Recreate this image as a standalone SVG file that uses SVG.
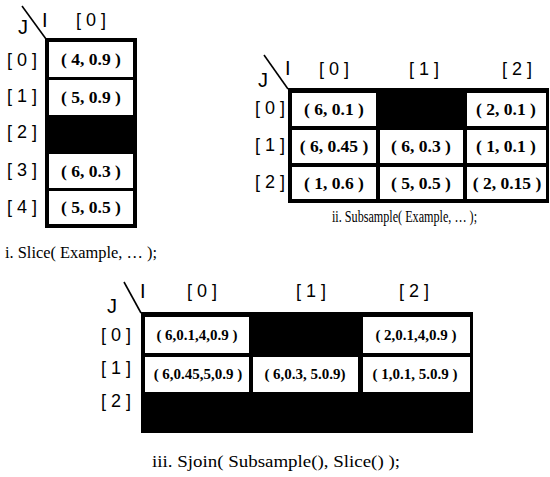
<svg xmlns="http://www.w3.org/2000/svg" width="550" height="477" viewBox="0 0 550 477">
<style>
.bg{fill:#fff}
.blk{fill:#000}
.wc{fill:#fff}
.lbl{font-family:'Liberation Sans',Arimo,Arial,sans-serif;font-size:18px;letter-spacing:5px;fill:#000}
.ij{font-family:'Liberation Sans',Arimo,Arial,sans-serif;font-size:20px;fill:#000}
.cell{font-family:'Liberation Serif',Tinos,'Times New Roman','DejaVu Serif',serif;font-weight:700;font-size:17.5px;text-anchor:middle;fill:#000}
.cell2{font-family:'Liberation Serif',Tinos,'Times New Roman','DejaVu Serif',serif;font-weight:700;font-size:15px;text-anchor:middle;fill:#000}
.cap{font-family:'Liberation Serif',Tinos,'Times New Roman','DejaVu Serif',serif;font-size:16px;fill:#000}
.diag{stroke:#000;stroke-width:1.6;fill:none}
</style>
<rect class="bg" x="0" y="0" width="550" height="477"/>

<g id="slice">
  <g id="slice-axes">
    <line class="diag" x1="22" y1="6" x2="46" y2="39"/>
    <text class="ij" x="18" y="34">J</text>
    <text class="ij" x="42" y="27">I</text>
    <text class="lbl" x="76" y="26">[0]</text>
    <text class="lbl" x="7" y="66">[0]</text>
    <text class="lbl" x="7" y="102">[1]</text>
    <text class="lbl" x="7" y="138">[2]</text>
    <text class="lbl" x="7" y="176">[3]</text>
    <text class="lbl" x="7" y="213">[4]</text>
  </g>
  <rect class="blk" x="45" y="38" width="92" height="190"/>
  <g id="slice-0-0"><rect class="wc" x="49" y="42" width="84" height="35"/><text class="cell" x="91" y="65">( 4, 0.9 )</text></g>
  <g id="slice-1-0"><rect class="wc" x="49" y="80" width="84" height="35"/><text class="cell" x="91" y="103">( 5, 0.9 )</text></g>
  <g id="slice-2-0"></g>
  <g id="slice-3-0"><rect class="wc" x="49" y="154" width="84" height="34"/><text class="cell" x="91" y="177">( 6, 0.3 )</text></g>
  <g id="slice-4-0"><rect class="wc" x="49" y="191" width="84" height="33"/><text class="cell" x="91" y="213">( 5, 0.5 )</text></g>
  <text id="slice-caption" class="cap" x="5" y="258" textLength="152" lengthAdjust="spacingAndGlyphs">i. Slice( Example, … );</text>
</g>

<g id="subsample">
  <g id="subsample-axes">
    <line class="diag" x1="264" y1="55" x2="288" y2="89"/>
    <text class="ij" x="258" y="87">J</text>
    <text class="ij" x="285" y="75">I</text>
    <text class="lbl" x="319" y="75">[0]</text>
    <text class="lbl" x="409" y="75">[1]</text>
    <text class="lbl" x="502" y="75">[2]</text>
    <text class="lbl" x="255" y="114">[0]</text>
    <text class="lbl" x="255" y="151">[1]</text>
    <text class="lbl" x="255" y="188">[2]</text>
  </g>
  <rect class="blk" x="288" y="88" width="261" height="115"/>
  <g id="sub-0-0"><rect class="wc" x="292" y="93" width="84" height="33"/><text class="cell" x="334" y="115">( 6, 0.1 )</text></g>
  <g id="sub-0-1"></g>
  <g id="sub-0-2"><rect class="wc" x="467" y="93" width="79" height="33"/><text class="cell" x="506" y="115">( 2, 0.1 )</text></g>
  <g id="sub-1-0"><rect class="wc" x="292" y="130" width="84" height="33"/><text class="cell" x="334" y="152">( 6, 0.45 )</text></g>
  <g id="sub-1-1"><rect class="wc" x="380" y="130" width="83" height="33"/><text class="cell" x="421" y="152">( 6, 0.3 )</text></g>
  <g id="sub-1-2"><rect class="wc" x="467" y="130" width="79" height="33"/><text class="cell" x="506" y="152">( 1, 0.1 )</text></g>
  <g id="sub-2-0"><rect class="wc" x="292" y="167" width="84" height="32"/><text class="cell" x="334" y="189">( 1, 0.6 )</text></g>
  <g id="sub-2-1"><rect class="wc" x="380" y="167" width="83" height="32"/><text class="cell" x="421" y="189">( 5, 0.5 )</text></g>
  <g id="sub-2-2"><rect class="wc" x="467" y="167" width="79" height="32"/><text class="cell" x="507" y="189">( 2, 0.15 )</text></g>
  <text id="subsample-caption" class="cap" x="332" y="222" textLength="145" lengthAdjust="spacingAndGlyphs">ii. Subsample( Example, … );</text>
</g>

<g id="sjoin">
  <g id="sjoin-axes">
    <line class="diag" x1="124" y1="282" x2="141" y2="313"/>
    <text class="ij" x="107" y="313">J</text>
    <text class="ij" x="140" y="298">I</text>
    <text class="lbl" x="187" y="297">[0]</text>
    <text class="lbl" x="296" y="297">[1]</text>
    <text class="lbl" x="399" y="297">[2]</text>
    <text class="lbl" x="101" y="341">[0]</text>
    <text class="lbl" x="101" y="374">[1]</text>
    <text class="lbl" x="101" y="407">[2]</text>
  </g>
  <rect class="blk" x="141" y="312" width="332" height="121"/>
  <g id="sj-0-0"><rect class="wc" x="145" y="317" width="104" height="36"/><text class="cell2" x="197" y="340">( 6,0.1,4,0.9 )</text></g>
  <g id="sj-0-1"></g>
  <g id="sj-0-2"><rect class="wc" x="363" y="317" width="107" height="36"/><text class="cell2" x="416" y="340">( 2,0.1,4,0.9 )</text></g>
  <g id="sj-1-0"><rect class="wc" x="145" y="357" width="104" height="35"/><text class="cell2" x="198" y="379">( 6,0.45,5,0.9 )</text></g>
  <g id="sj-1-1"><rect class="wc" x="253" y="357" width="105" height="35"/><text class="cell2" x="305" y="379">( 6,0.3, 5.0.9)</text></g>
  <g id="sj-1-2"><rect class="wc" x="363" y="357" width="107" height="35"/><text class="cell2" x="415" y="379">( 1,0.1, 5.0.9 )</text></g>
  <text id="sjoin-caption" class="cap" x="152" y="467" textLength="248" lengthAdjust="spacingAndGlyphs">iii. Sjoin( Subsample(), Slice() );</text>
</g>
</svg>
